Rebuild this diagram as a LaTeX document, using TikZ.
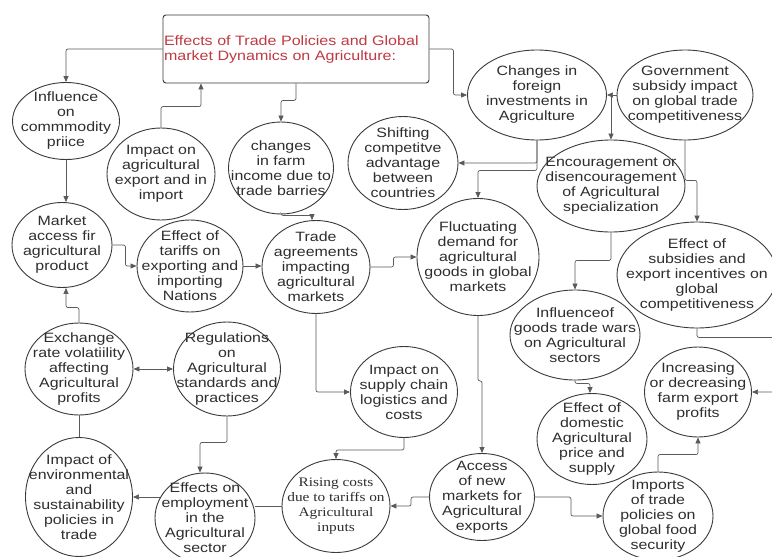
\documentclass[tikz,border=0pt]{standalone}
\usepackage{fontspec}
\setmainfont{Liberation Sans}[FakeStretch=1.18]
\newfontfamily\risingfont{Liberation Serif}[FakeStretch=1.18]
\usepackage{xcolor}
\definecolor{lineGray}{HTML}{5A5A5A}
\definecolor{bubbleGray}{HTML}{3A3A3A}
\definecolor{textGray}{HTML}{2E2E2E}
\definecolor{titleRed}{HTML}{BF3A42}
\usepackage{tikz}
\usetikzlibrary{shapes.geometric, arrows.meta, calc}

\begin{document}
\begin{tikzpicture}[
    x=1pt, y=-1pt,
    bubble/.style 2 args={ellipse, draw=bubbleGray, line width=0.9pt, inner sep=0pt, minimum width=#1pt, minimum height=#2pt},
    bubbletext/.style={inner sep=0pt, align=center, text=textGray, font=\fontsize{13.5}{15}\selectfont},
    say/.style={label={[bubbletext]center:#1}},
    serifsay/.style={label={[bubbletext, font=\risingfont\fontsize{13}{15}\selectfont]center:#1}},
    titlebox/.style={rectangle, draw=bubbleGray, line width=0.9pt, rounded corners=3pt, minimum width=266pt, minimum height=68pt, text width=264pt, align=left, inner sep=1pt, text=titleRed, font=\fontsize{13.6}{15}\selectfont},
    arrow/.style={-{Triangle[length=6pt, width=5pt]}, line width=0.7pt, lineGray, rounded corners=2pt},
    dblarrow/.style={{Triangle[length=6pt, width=5pt]}-{Triangle[length=6pt, width=5pt]}, line width=0.7pt, lineGray},
    plainline/.style={line width=0.7pt, lineGray}
]
    \clip (0,0) rectangle (772,557);
    \fill[white] (0,0) rectangle (772,557);

    % Nodes
    \node[titlebox] (title) at (296,49) {Effects of Trade Policies and Global\\market Dynamics on Agriculture:};
    \node[bubble={107}{77}, say={Influence\\on\\commmodity\\priice}] (influence) at (66,121) {};
    \node[bubble={108}{92}, say={Impact on\\agricultural\\export and in\\import}] (impexp) at (161,174) {};
    \node[bubble={105}{92}, say={changes\\in farm\\income due to\\trade barries}] (farm) at (281,168) {};
    \node[bubble={110}{93}, say={Shifting\\competitve\\advantage\\between\\countries}] (shifting) at (403,163) {};
    \node[bubble={139}{90}, say={Changes in\\foreign\\investments in\\Agriculture}] (foreign) at (537,95) {};
    \node[bubble={136}{90}, say={Government\\subsidy impact\\on global trade\\competitiveness}] (govt) at (685,95) {};
    \node[bubble={148}{92}, say={Encouragement or\\disencouragement\\of Agricultural\\specialization}] (enc) at (611,186) {};
    \node[bubble={122}{117}, say={Fluctuating\\demand for\\agricultural\\goods in global\\markets}] (fluct) at (478,257) {};
    \node[bubble={160}{106}, say={Effect of\\subsidies and\\export incentives on\\global\\competitiveness}] (subs) at (697,275) {};
    \node[bubble={100}{85}, say={Market\\access fir\\agricultural\\product}] (market) at (62,245) {};
    \node[bubble={106}{92}, say={Effect of\\tariffs on\\exporting and\\importing\\Nations}] (tariffs) at (190,266) {};
    \node[bubble={108}{93}, say={Trade\\agreements\\impacting\\agricultural\\markets}] (trade) at (316,267) {};
    \node[bubble={130}{90}, say={Influenceof\\goods trade wars\\on Agricultural\\sectors}] (wars) at (575,335) {};
    \node[bubble={108}{92}, say={Exchange\\rate volatiility\\affecting\\Agricultural\\profits}] (exchange) at (79,369) {};
    \node[bubble={107}{94}, say={Regulations\\on\\Agricultural\\standards and\\practices}] (regs) at (227,369) {};
    \node[bubble={107}{91}, say={Impact on\\supply chain\\logistics and\\costs}] (supply) at (404,392) {};
    \node[bubble={107}{90}, say={Increasing\\or decreasing\\farm export\\profits}] (increase) at (698,392) {};
    \node[bubble={110}{91}, say={Effect of\\domestic\\Agricultural\\price and\\supply}] (domestic) at (592,439) {};
    \node[bubble={107}{119}, say={Impact of\\environmental\\and\\sustainability\\policies in\\trade}] (environ) at (79,497) {};
    \node[bubble={100}{90}, say={Effects on\\employment\\in the\\Agricultural\\sector}] (employ) at (205,518) {};
    \node[bubble={108}{93}, serifsay={Rising costs\\due to tariffs on\\Agricultural\\inputs}] (rising) at (336,506) {};
    \node[bubble={105}{87}, say={Access\\of new\\markets for\\Agricultural\\exports}] (access) at (482,497) {};
    \node[bubble={110}{88}, say={Imports\\of trade\\policies on\\global food\\security}] (imports) at (658,516) {};

    % Connections
    \draw[arrow] (title.west) -| (influence.north);
    \draw[arrow] (influence.south) -- (influence.south |- market.north);
    \draw[arrow] (impexp.north) -- ++(0,-21) -| ([xshift=-95pt]title.south);
    \draw[arrow] (title.south) -- ++(0,17) -| (farm.north);
    \draw[arrow] (title.east) -- ++(24,0) |- (foreign.west);
    \draw[arrow] (govt.west) -- (foreign.east);
    \draw[arrow] (foreign.east -| enc.north) -- (enc.north);
    \draw[arrow] (foreign.south) |- (shifting.east);
    \draw[arrow] (foreign.south) -- ++(0,30) -| (fluct.north);
    \draw[arrow] (govt.south) -- ++(0,40) -| (subs.north);
    \draw[arrow] (enc.south) -- ++(0,28) -| (wars.north);
    \draw[arrow] (subs.south) -- ++(0,9) -- ++(90,0) |- (increase.east);
    \draw[arrow] (fluct.south) -- ++(0,65) -| (access.north);
    \draw[arrow] (trade.east) -- ++(23,0) |- (fluct.west);
    \draw[arrow] (trade.south) |- (supply.west);
    \draw[arrow] (farm.south) -- ++(0,1) -| ([xshift=-4pt]trade.north);
    \draw[arrow] (market.east) -- ++(13,0) |- (tariffs.west);
    \draw[arrow] (tariffs.east) -- (tariffs.east -| trade.west);
    \draw[arrow] (exchange.north) -- ++(0,-15) -| ([xshift=4pt]market.south);
    \draw[dblarrow] (exchange.east) -- (regs.west);
    \draw[plainline] (exchange.south) -- (environ.north);
    \draw[arrow] (regs.south) -- ++(0,26) -| ([xshift=-5pt]employ.north);
    \draw[arrow] ([xshift=5pt]employ.west |- environ.east) -- (environ.east);
    \draw[plainline] (rising.west) -- (rising.west -| employ.east);
    \draw[arrow] (supply.south) -- ++(0,12) -| (rising.north);
    \draw[arrow] (access.west) -- ++(-18,0) |- (rising.east);
    \draw[arrow] (access.east) -- ++(36,0) |- (imports.west);
    \draw[arrow] (imports.north) -- ++(0,-17) -| (increase.south);
    \draw[arrow] (wars.south) -- ++(0,3) -| ([xshift=-2pt]domestic.north);

\end{tikzpicture}
\end{document}
